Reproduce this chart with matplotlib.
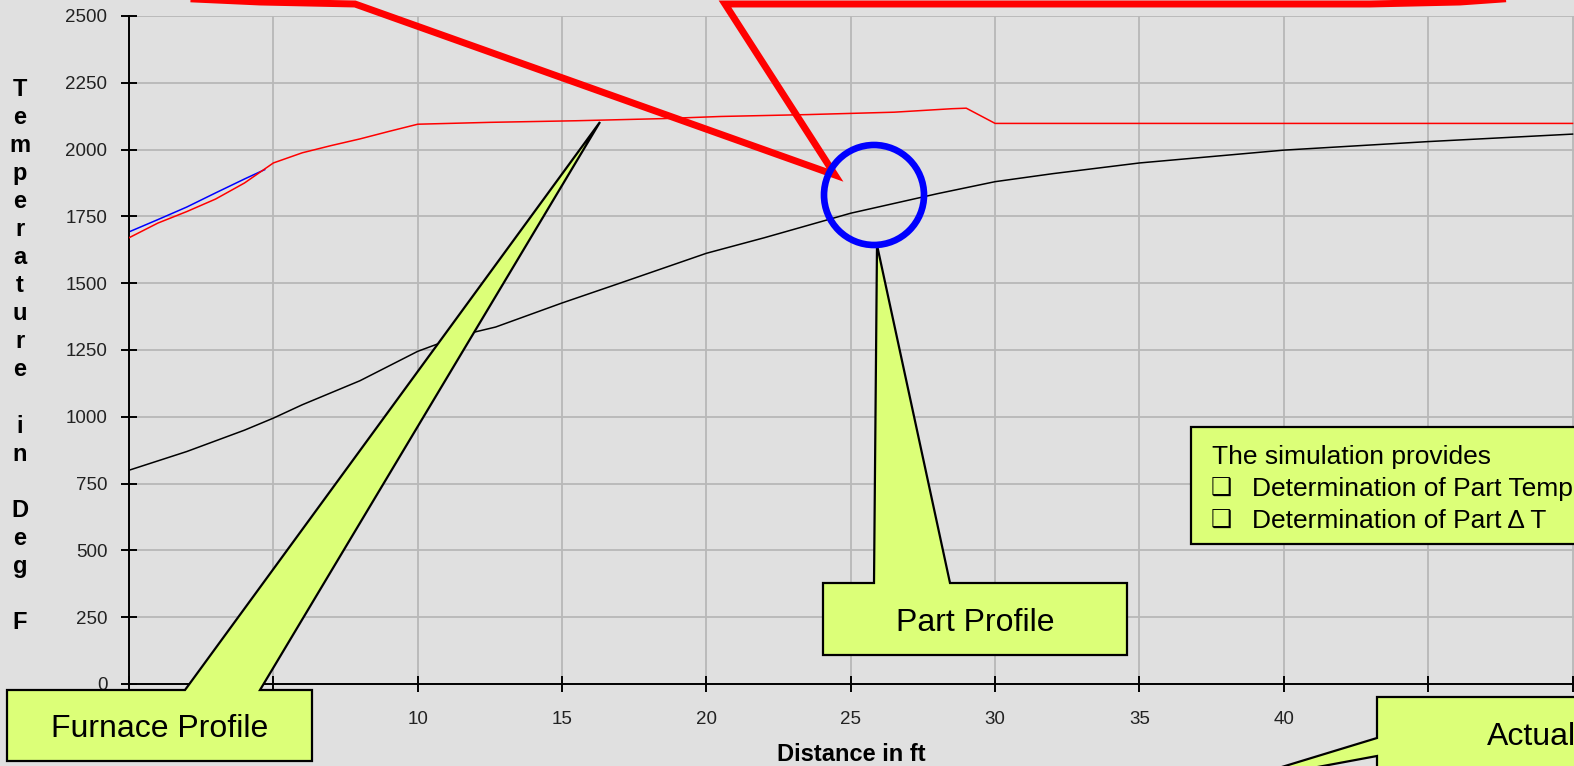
import numpy as np
import matplotlib.pyplot as plt
from matplotlib.patches import Polygon, Ellipse, Rectangle
from matplotlib.lines import Line2D

# figure size in pixels
W, H = 1574, 766

# data
furnace_x = [0, 1, 2, 3, 4, 5, 6, 7, 8, 9, 10, 12.5, 15.5, 18.5, 20.5, 23.5,
             26.5, 28.5, 29, 30, 35, 40, 45, 50]
furnace_y = [1670, 1725, 1768, 1815, 1875, 1950, 1988, 2015, 2040, 2068, 2095,
             2102, 2108, 2116, 2124, 2131, 2140, 2153, 2155, 2098, 2098, 2098,
             2098, 2098]

actual_x = [0, 1, 2, 3, 4, 4.7]
actual_y = [1692, 1738, 1785, 1838, 1890, 1925]

part_x = [0, 2, 4, 5, 6, 8, 10, 11.5, 12.7, 15, 17, 20, 22, 25, 28, 30, 32, 35,
          40, 45, 50]
part_y = [800, 870, 950, 995, 1045, 1135, 1245, 1305, 1336, 1426, 1500, 1612,
          1670, 1762, 1835, 1880, 1910, 1950, 1998, 2030, 2058]

x_ticks = list(range(0, 51, 5))
y_ticks = list(range(0, 2501, 250))

ylabel = "Temperature in Deg F"
xlabel = "Distance in ft"

bg = "#e0e0e0"
callout = "#dcff78"
sans = ["Liberation Sans", "DejaVu Sans"]


def fx(x):
    return x / W


def fy(y):
    return 1 - y / H


def pts(seq):
    return [(fx(a), fy(b)) for a, b in seq]


fig = plt.figure(figsize=(W / 100, H / 100), dpi=100, facecolor=bg)
ax = fig.add_axes([fx(129), fy(684), fx(1574) - fx(129), fy(16) - fy(684)])
ax.set_facecolor(bg)

ax.plot(part_x, part_y, color="black", lw=1.1, zorder=3)
ax.plot(furnace_x, furnace_y, color="#ff0000", lw=1.1, zorder=3)
ax.plot(actual_x, actual_y, color="#0000ff", lw=1.1, zorder=2)

ax.set_xlim(0, 50.05)
ax.set_ylim(0, 2500)
ax.set_xticks(x_ticks)
ax.set_yticks(y_ticks)
ax.grid(True, color="#b8b8b8", lw=1.3)
ax.set_axisbelow(True)
for s in ["top", "right"]:
    ax.spines[s].set_visible(False)
for s in ["left", "bottom"]:
    ax.spines[s].set_linewidth(1.4)
ax.tick_params(direction="inout", length=11, width=1.4, labelsize=13.5,
               labelcolor="#222222")
ax.tick_params(axis="y", pad=10)
ax.tick_params(axis="x", pad=14)
for lab in ax.get_xticklabels() + ax.get_yticklabels():
    lab.set_family(sans)

# axis labels
fig.text(fx(851), fy(761), xlabel, ha="center", va="baseline",
         fontsize=17, fontweight="bold", family=sans)
for k, ch in enumerate(ylabel):
    fig.text(fx(20), fy(95.5 + 28.1 * k), ch, ha="center", va="baseline",
             fontsize=17, fontweight="bold", family=sans)

# red callout outline at the top
fig.add_artist(Line2D(*zip(*pts([(150, -3), (260, 2), (355, 4), (835, 175),
                                  (725, 4), (1370, 4), (1460, 2), (1545, -4)])),
                      transform=fig.transFigure, color="#ff0000", lw=5,
                      solid_joinstyle="miter", zorder=6))

# blue circle
fig.add_artist(Ellipse((fx(874), fy(195)), 100 / W, 100 / H, fill=False,
                       ec="#0000ff", lw=4.8, transform=fig.transFigure,
                       zorder=6))

# yellow callouts
furnace_box = [(7, 690), (185, 690), (600, 122), (260, 690), (312, 690),
               (312, 761), (7, 761)]
part_box = [(823, 583), (874, 583), (877, 245), (950, 583), (1127, 583),
            (1127, 655), (823, 655)]
actual_box = [(1377, 697), (1600, 697), (1600, 830), (1377, 830), (1377, 756),
              (1226, 784), (1377, 738)]
for poly in [furnace_box, part_box, actual_box]:
    fig.add_artist(Polygon(pts(poly), closed=True, fc=callout, ec="black",
                           lw=1.6, joinstyle="miter",
                           transform=fig.transFigure, zorder=5))
fig.add_artist(Rectangle((fx(1191), fy(544)), (1600 - 1191) / W, 117 / H,
                         fc=callout, ec="black", lw=1.6,
                         transform=fig.transFigure, zorder=5))

fig.text(fx(160), fy(737), "Furnace Profile", ha="center", va="baseline",
         fontsize=23, family=sans, zorder=7)
fig.text(fx(975), fy(631), "Part Profile", ha="center", va="baseline",
         fontsize=23, family=sans, zorder=7)
fig.text(fx(1487), fy(745), "Actual", ha="left", va="baseline",
         fontsize=23, family=sans, zorder=7)

fig.text(fx(1212), fy(464), "The simulation provides", ha="left",
         va="baseline", fontsize=19, family=sans, zorder=7)
for yy, line in [(496, "Determination of Part Temperature"),
                 (528, "Determination of Part \u0394 T")]:
    fig.text(fx(1211), fy(yy), "\u2751", ha="left", va="baseline",
             fontsize=17, family=["DejaVu Sans"], zorder=7)
    fig.text(fx(1252), fy(yy), line, ha="left", va="baseline",
             fontsize=19, family=sans, zorder=7)

fig.savefig("out.png", dpi=100, facecolor=bg)
